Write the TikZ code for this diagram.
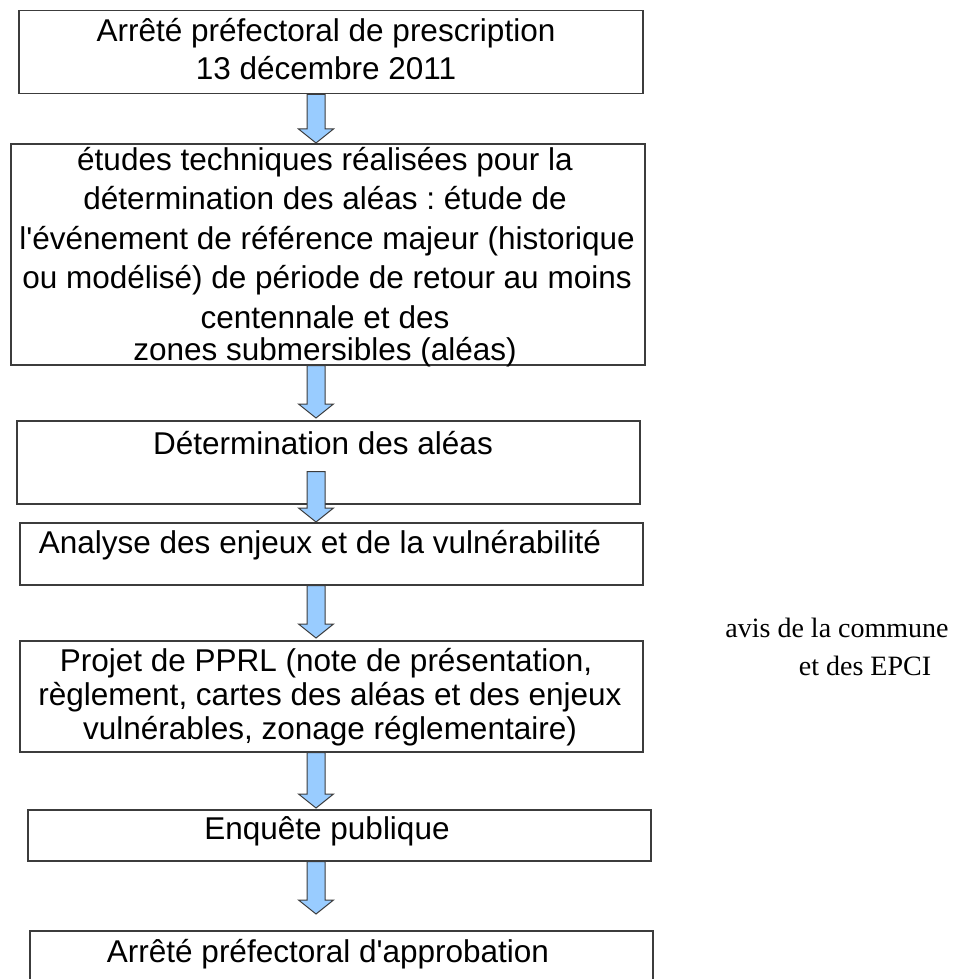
\documentclass[tikz,border=0pt]{standalone}
\usepackage{fontspec}
\newfontfamily\arialfont{Liberation Sans}
\newfontfamily\timesfont{Liberation Serif}
\usetikzlibrary{calc}
\definecolor{arrowblue}{HTML}{99CCFF}
\definecolor{edgegray}{HTML}{3C3C3C}
\tikzset{
  box/.style={draw=edgegray, line width=1.5pt, rectangle, anchor=north west, inner sep=0pt},
  txt/.style={anchor=base, inner sep=0pt, font=\arialfont\fontsize{31.5}{36}\selectfont},
  side/.style={anchor=base, inner sep=0pt, font=\timesfont\fontsize{28}{32}\selectfont},
  barrow/.style={draw=edgegray, line width=1pt, fill=arrowblue, line join=miter},
}
\newcommand\blockarrow[2]{%
  \draw[barrow] ($(#1)+(-9,0)$) -- ($(#1)+(9,0)$) -- ($(#2)+(9,-14)$) -- ($(#2)+(17.5,-14)$)
    -- (#2) -- ($(#2)+(-17.5,-14)$) -- ($(#2)+(-9,-14)$) -- cycle;}
\frenchspacing
\begin{document}
\begin{tikzpicture}[x=1pt,y=-1pt]
\useasboundingbox (0,0) rectangle (970,979);
\clip (0,0) rectangle (970,979);
\fill[white] (0,0) rectangle (970,979);

% boxes
\node[box, minimum width=624, minimum height=83] (b1) at (18,10) {};
\node[box, minimum width=634, minimum height=221] (b2) at (10,143) {};
\node[box, minimum width=623, minimum height=83] (b3) at (16,420) {};
\node[box, minimum width=623, minimum height=62] (b4) at (19,522) {};
\node[box, minimum width=623, minimum height=111] (b5) at (19,640) {};
\node[box, minimum width=623, minimum height=51] (b6) at (27,809) {};
\node[box, minimum width=623, minimum height=80] (b7) at (29,930) {};

% texts
\node[txt] (t1a) at (326,42) {Arrêté préfectoral de prescription};
\node[txt] (t1b) at (326,80) {13 décembre 2011};

\node[txt] (t2a) at (325,170) {études techniques réalisées pour la};
\node[txt] (t2b) at (325,209.5) {détermination des aléas : étude de};
\node[txt] (t2c) at (327,249) {l'événement de référence majeur (historique};
\node[txt] (t2d) at (327,288.5) {ou modélisé) de période de retour au moins};
\node[txt] (t2e) at (325,328) {centennale et des};
\node[txt] (t2f) at (325,360) {zones submersibles (aléas)};

\node[txt] (t3) at (323,454) {Détermination des aléas};
\node[txt] (t4) at (320,553) {Analyse des enjeux et de la vulnérabilité};

\node[txt] (t5a) at (326,671) {Projet de PPRL (note de présentation,};
\node[txt] (t5b) at (330,705) {règlement, cartes des aléas et des enjeux};
\node[txt] (t5c) at (330,739) {vulnérables, zonage réglementaire)};

\node[txt] (t6) at (327,839) {Enquête publique};
\node[txt] (t7) at (328,962) {Arrêté préfectoral d'approbation};

\node[side] (s1) at (837,637) {avis de la commune};
\node[side] (s2) at (865,675) {et des EPCI};

% arrows
\coordinate (ax) at (316,0);
\coordinate (a1s) at (b1.south -| ax);
\coordinate (a1e) at (b2.north -| ax);
\coordinate (a2s) at (b2.south -| ax);
\coordinate (a2e) at ($(b3.north -| ax)+(0,-2)$);
\coordinate (a3s) at ($(b3.south -| ax)+(0,-33)$);
\coordinate (a3e) at (b4.north -| ax);
\coordinate (a4s) at (b4.south -| ax);
\coordinate (a4e) at ($(b5.north -| ax)+(0,-2)$);
\coordinate (a5s) at (b5.south -| ax);
\coordinate (a5e) at ($(b6.north -| ax)+(0,-1)$);
\coordinate (a6s) at (b6.south -| ax);
\coordinate (a6e) at ($(b7.north -| ax)+(0,-16)$);
\blockarrow{a1s}{a1e}
\blockarrow{a2s}{a2e}
\blockarrow{a3s}{a3e}
\blockarrow{a4s}{a4e}
\blockarrow{a5s}{a5e}
\blockarrow{a6s}{a6e}
\end{tikzpicture}
\end{document}
